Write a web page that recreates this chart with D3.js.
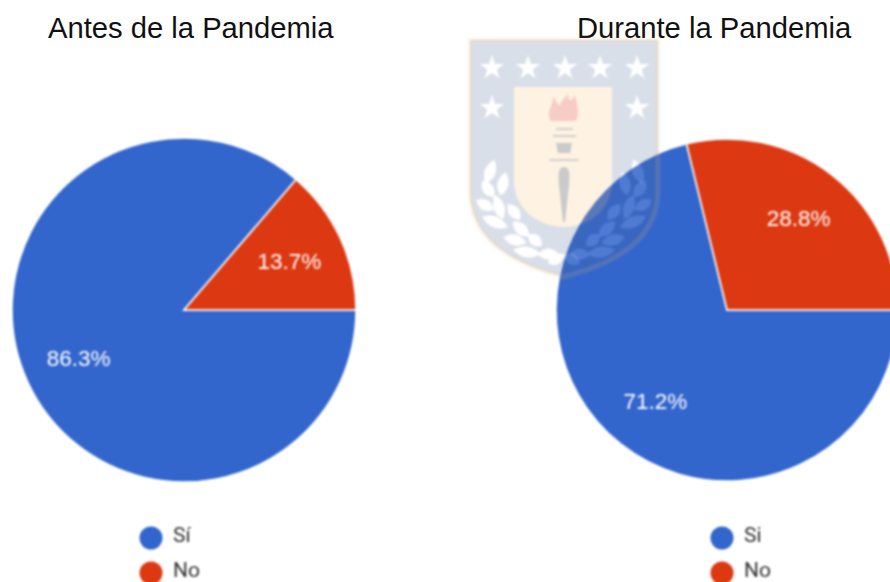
<!DOCTYPE html>
<html>
<head>
<meta charset="utf-8">
<script src="https://cdnjs.cloudflare.com/ajax/libs/d3/7.8.5/d3.min.js"></script>
<style>
body { margin: 0; background: #fff; overflow: hidden; }
svg { display: block; }
.titulo { font-family: "Liberation Sans", Arial, sans-serif; font-size: 29.2px; fill: #111; }
.etiqueta { font-family: "Liberation Sans", Arial, sans-serif; font-size: 22.5px; fill: #fff; text-anchor: middle; dominant-baseline: central; }
.leyenda { font-family: Roboto, Arial, sans-serif; font-size: 21px; fill: #333; dominant-baseline: central; }
.suave { filter: blur(0.8px); }
</style>
</head>
<body>
<div id="chart"></div>
<script>
//Datos
const titulos = ['Antes de la Pandemia', 'Durante la Pandemia'];
const categoriasAntes = ['Sí', 'No'];
const categoriasDurante = ['Si', 'No'];
const valoresAntes = [86.3, 13.7];
const valoresDurante = [71.2, 28.8];

const COLOR_SI = '#3366cc', COLOR_NO = '#dc3912';

let width = 890, height = 582;

let svg = d3.select('#chart')
    .append('svg')
    .attr('width', width)
    .attr('height', height);

let defs = svg.append('defs');

//Tartas
let pie = d3.pie()
    .sort(null)
    .startAngle(Math.PI / 2)
    .endAngle(Math.PI / 2 + 2 * Math.PI);

function drawPie(cx, valores, categorias, radio, tituloX, titulo, legendX) {
    let color = d3.scaleOrdinal().domain(categorias).range([COLOR_SI, COLOR_NO]);
    let arc = d3.arc().innerRadius(0).outerRadius(radio);
    let arcLabel = d3.arc().innerRadius(116).outerRadius(116);

    svg.append('text')
        .attr('class', 'titulo')
        .attr('x', tituloX)
        .attr('y', 38)
        .text(titulo);

    let g = svg.append('g')
        .attr('class', 'suave')
        .attr('transform', 'translate(' + cx + ',310)');

    let arcos = pie(valores);

    g.selectAll('path')
        .data(arcos)
        .enter()
        .append('path')
        .attr('d', arc)
        .attr('fill', function(d, i) { return color(categorias[i]); })
        .attr('stroke', '#fff')
        .attr('stroke-width', 1.5);

    g.selectAll('text')
        .data(arcos)
        .enter()
        .append('text')
        .attr('class', 'etiqueta')
        .attr('transform', function(d) { return 'translate(' + arcLabel.centroid(d) + ')'; })
        .text(function(d) { return d.value.toFixed(1) + '%'; });

    //Leyenda
    let y = d3.scalePoint().domain(categorias).range([538, 573]);
    let leyenda = svg.append('g').attr('class', 'suave');

    leyenda.selectAll('circle')
        .data(categorias)
        .enter()
        .append('circle')
        .attr('cx', legendX)
        .attr('cy', function(d) { return y(d); })
        .attr('r', 11.5)
        .attr('fill', function(d) { return color(d); });

    leyenda.selectAll('text')
        .data(categorias)
        .enter()
        .append('text')
        .attr('class', 'leyenda')
        .attr('x', legendX + 22)
        .attr('y', function(d) { return y(d) - 3.5; })
        .text(function(d) { return d; });
}

drawPie(184, valoresAntes, categoriasAntes, 172, 48, titulos[0], 151);
drawPie(727, valoresDurante, categoriasDurante, 171, 577, titulos[1], 722);

//Escudo de fondo (marca de agua)
const SHIELD = 'M470,40 H658 V190 C658,238 620,262 564,277 C508,262 470,238 470,190 Z';
const PANEL = 'M514,87 H612 V180 C612,208 592,226 564,227 C536,226 514,208 514,180 Z';
const estrellas = [[492, 68], [528, 68], [565, 68], [600, 68], [637, 68], [492, 108], [637, 108]];
// hojas del laurel, lado izquierdo: x, y, giro, largo
const hojas = [
    [490, 172, -70, 13], [503, 184, -78, 12], [488, 189, 55, 10], [485, 205, 30, 10], [499, 207, 72, 13],
    [514, 212, 52, 10], [495, 222, 22, 14], [521, 229, 42, 11], [515, 240, 15, 12], [535, 240, 40, 9],
    [527, 252, 8, 14], [548, 254, -5, 10], [556, 259, -28, 9]
];

let todasHojas = hojas.concat(hojas.map(function(h) { return [1128 - h[0], h[1], -h[2], h[3]]; }));
let star = d3.symbol().type(d3.symbolStar).size(190);

function hojaPath(d) {
    let l = d[3], a = 11;
    return 'M' + (-l) + ',0 Q0,' + (-a) + ' ' + l + ',0 Q0,' + a + ' ' + (-l) + ',0 Z';
}
function hojaTransform(d) {
    return 'translate(' + d[0] + ',' + d[1] + ') rotate(' + d[2] + ')';
}

let mask = defs.append('mask')
    .attr('id', 'huecos')
    .attr('maskUnits', 'userSpaceOnUse')
    .attr('x', 0).attr('y', 0).attr('width', width).attr('height', height);
mask.append('rect').attr('width', width).attr('height', height).attr('fill', '#fff');
mask.append('path').attr('d', PANEL).attr('fill', '#000');
mask.selectAll('.s').data(estrellas).enter().append('path').attr('class', 's')
    .attr('d', star)
    .attr('transform', function(d) { return 'translate(' + d[0] + ',' + d[1] + ')'; })
    .attr('fill', '#000');
mask.selectAll('.h').data(todasHojas).enter().append('path').attr('class', 'h')
    .attr('d', hojaPath)
    .attr('transform', hojaTransform)
    .attr('fill', '#000');

let escudo = svg.append('g').style('filter', 'blur(1.2px)');

escudo.append('path')
    .attr('d', SHIELD)
    .attr('fill', 'rgba(80,110,150,0.22)')
    .attr('mask', 'url(#huecos)');
escudo.append('path')
    .attr('d', SHIELD)
    .attr('fill', 'none')
    .attr('stroke', 'rgba(250,190,110,0.15)')
    .attr('stroke-width', 5);
escudo.append('path')
    .attr('d', PANEL)
    .attr('fill', 'rgba(250,190,110,0.2)');
escudo.selectAll('.hoja').data(todasHojas).enter().append('path').attr('class', 'hoja')
    .attr('d', hojaPath)
    .attr('transform', hojaTransform)
    .attr('fill', 'rgba(255,255,255,0.14)');

//Antorcha
escudo.append('path')
    .attr('d', 'M551,121 C546,112 552,108 554,96 C556,103 558,104 560,106 C561,101 565,98 568,93 C567,101 572,103 575,95 C578,106 579,116 576,121 Z')
    .attr('fill', 'rgba(225,90,110,0.25)');
escudo.append('g')
    .attr('fill', 'rgba(80,110,150,0.25)')
    .selectAll('rect')
    .data([[556, 128, 17, 2], [553, 135, 23, 2], [549, 159, 30, 2]])
    .enter()
    .append('rect')
    .attr('x', function(d) { return d[0]; })
    .attr('y', function(d) { return d[1]; })
    .attr('width', function(d) { return d[2]; })
    .attr('height', function(d) { return d[3]; });
escudo.append('path')
    .attr('d', 'M556,143 H572 L570,153 H558 Z M564,167 C570,167 570,175 569,185 L565,222 H563 L559,185 C558,175 558,167 564,167 Z')
    .attr('fill', 'rgba(80,110,150,0.3)');
</script>
</body>
</html>
